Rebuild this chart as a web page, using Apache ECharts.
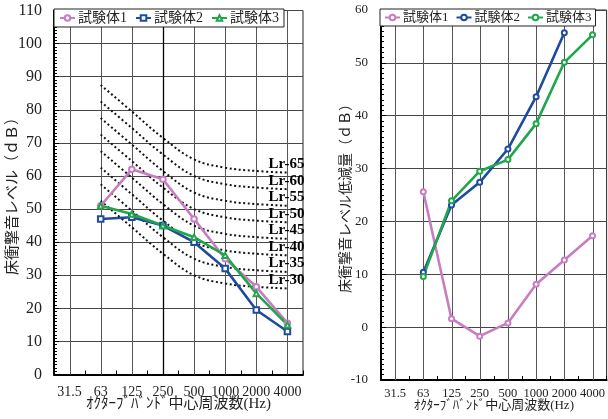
<!DOCTYPE html>
<html>
<head>
<meta charset="utf-8">
<script src="https://cdn.jsdelivr.net/npm/echarts@6/dist/echarts.min.js"></script>
<style>
  html, body { margin: 0; padding: 0; background: #fff; }
  #c { width: 608px; height: 419px; }
</style>
</head>
<body>
<div id="c"></div>
<script>
// Octave band centre frequencies (Hz)
const bands = ['31.5', '63', '125', '250', '500', '1000', '2000', '4000'];
const names = ['試験体1', '試験体2', '試験体3'];

// Floor impact sound level (dB) per specimen
const level1 = [null, 51, 62, 59, 47, 35, 26.5, 15.5];
const level2 = [null, 47, 47.5, 45, 40, 32, 19.5, 13];
const level3 = [null, 51, 48.5, 45, 41.5, 36, 24.5, 15];

// Reduction of floor impact sound level (dB) per specimen
const reduce1 = [null, 25.6, 1.6, -1.7, 0.8, 8.1, 12.7, 17.3];
const reduce2 = [null, 10.4, 23.1, 27.4, 33.7, 43.6, 55.7, null];
const reduce3 = [null, 9.6, 23.9, 29.5, 31.7, 38.5, 50.1, 55.3];

// Lr rating curves
const lrNames = ['Lr-65', 'Lr-60', 'Lr-55', 'Lr-50', 'Lr-45', 'Lr-40', 'Lr-35', 'Lr-30'];
const lr65 = [null, 87.5, 79.5, 71.5, 65, 62.5, 61.5, 61];
const lr60 = [null, 82.5, 74.5, 66.5, 60, 57.5, 56.5, 56];
const lr55 = [null, 77.5, 69.5, 61.5, 55, 52.5, 51.5, 51];
const lr50 = [null, 72.5, 64.5, 56.5, 50, 47.5, 46.5, 46];
const lr45 = [null, 67.5, 59.5, 51.5, 45, 42.5, 41.5, 41];
const lr40 = [null, 62.5, 54.5, 46.5, 40, 37.5, 36.5, 36];
const lr35 = [null, 57.5, 49.5, 41.5, 35, 32.5, 31.5, 31];
const lr30 = [null, 52.5, 44.5, 36.5, 30, 27.5, 26.5, 26];
const lrCurves = [lr65, lr60, lr55, lr50, lr45, lr40, lr35, lr30];

const colors = ['#c77dbf', '#1f4b9e', '#20a64b'];
const GRID_LINE = '#5a5456';
const SERIF = '"Liberation Serif", "Times New Roman", serif';
const JP = '"Liberation Serif", "Noto Sans CJK JP", serif';

function xAxisFor(gridIndex, fontSize, margin, nameSize, nameGap) {
  return {
    type: 'category',
    gridIndex: gridIndex,
    data: bands,
    boundaryGap: true,
    axisLine: { show: true, onZero: false, lineStyle: { color: '#000', width: 2 } },
    axisTick: { show: true, inside: true, length: 4, interval: 0, lineStyle: { color: '#000', width: 1 } },
    axisLabel: { interval: 0, fontFamily: SERIF, fontSize: fontSize, color: '#222', margin: margin },
    splitLine: { show: false },
    name: 'ｵｸﾀｰﾌﾞﾊﾞﾝﾄﾞ中心周波数(Hz)',
    nameLocation: 'middle',
    nameGap: nameGap,
    nameMoveOverlap: false,
    nameTextStyle: { fontFamily: JP, fontSize: nameSize, color: '#222' }
  };
}

function yAxisFor(gridIndex, min, max, fontSize, margin, name, nameSize, nameGap) {
  return {
    type: 'value',
    gridIndex: gridIndex,
    min: min, max: max, interval: 10,
    axisLine: { show: true, onZero: false, lineStyle: { color: '#000', width: 2 } },
    axisTick: { show: true, inside: true, length: 5, lineStyle: { color: '#000' } },
    minorTick: { show: true, splitNumber: 10, length: 3, lineStyle: { color: '#000', width: 1 } },
    axisLabel: { fontFamily: SERIF, fontSize: fontSize, color: '#222', margin: margin },
    splitLine: { show: true, lineStyle: { color: '#4a4446', width: 1 } },
    name: name,
    nameLocation: 'middle',
    nameRotate: 90,
    nameGap: nameGap,
    nameMoveOverlap: false,
    nameTextStyle: { fontFamily: JP, fontSize: nameSize, color: '#222' }
  };
}

// Vertical rules through each band centre, drawn as a custom series beneath the data
function bandRuleSeries(axisIndex, darkBand) {
  return {
    name: 'bandRules' + axisIndex,
    type: 'custom',
    xAxisIndex: axisIndex, yAxisIndex: axisIndex,
    data: bands.map(function (b) { return [b]; }),
    encode: { x: 0 },
    silent: true,
    z: 1,
    clip: false,
    renderItem: function (params, api) {
      const cs = params.coordSys;
      const x = Math.round(api.coord([api.value(0), 0])[0]) + 0.5;
      const dark = bands[params.dataIndex] === darkBand;
      return {
        type: 'line',
        silent: true,
        shape: { x1: x, y1: cs.y, x2: x, y2: cs.y + cs.height },
        style: { stroke: dark ? '#000' : GRID_LINE, lineWidth: dark ? 1.3 : 1, fill: null }
      };
    }
  };
}

const series = [bandRuleSeries(0, '250'), bandRuleSeries(1, null)];

// Lr curves on the left chart
lrCurves.forEach(function (vals, i) {
  series.push({
    name: lrNames[i],
    type: 'line',
    xAxisIndex: 0, yAxisIndex: 0,
    data: vals,
    smooth: 0.4,
    symbol: 'circle',
    symbolSize: 0.1,
    showSymbol: true,
    z: 2,
    silent: true,
    itemStyle: { color: 'rgba(0,0,0,0)' },
    lineStyle: { color: '#111', width: 2, type: [2, 2.6] },
    label: {
      show: true,
      position: 'top',
      distance: 1,
      offset: [-1, 0],
      fontFamily: SERIF,
      fontWeight: 'bold',
      fontSize: 15,
      color: '#000',
      formatter: function (p) { return p.dataIndex === bands.length - 1 ? p.seriesName : ''; }
    }
  });
});

// Measured levels
const levelData = [level1, level2, level3];
const levelSymbols = ['emptyCircle', 'emptyRect', 'emptyTriangle'];
levelData.forEach(function (vals, i) {
  series.push({
    name: names[i],
    type: 'line',
    xAxisIndex: 0, yAxisIndex: 0,
    data: vals,
    symbol: levelSymbols[i],
    symbolSize: 5.5,
    z: 3,
    lineStyle: { color: colors[i], width: 2.6 },
    itemStyle: { color: colors[i], borderWidth: 1.2 }
  });
});

// Reductions (right chart); trailing space keeps the legend entries separate
const reduceData = [reduce1, reduce2, reduce3];
reduceData.forEach(function (vals, i) {
  series.push({
    name: names[i] + ' ',
    type: 'line',
    xAxisIndex: 1, yAxisIndex: 1,
    data: vals,
    symbol: 'emptyCircle',
    symbolSize: 5,
    z: 3,
    lineStyle: { color: colors[i], width: 2.6 },
    itemStyle: { color: colors[i], borderWidth: 1.2 }
  });
});

const legendBase = {
  orient: 'horizontal',
  backgroundColor: '#fff',
  borderColor: '#222',
  borderWidth: 1,
  itemWidth: 15,
  itemHeight: 7,
  selectedMode: false,
  formatter: function (n) { return n.trim(); }
};

const option = {
  animation: false,
  backgroundColor: '#fff',
  grid: [
    { left: 54, right: 305, top: 10.5, bottom: 44.5, show: true, backgroundColor: 'transparent', borderColor: '#222', borderWidth: 1 },
    { left: 381, right: 1, top: 10, bottom: 39, show: true, backgroundColor: 'transparent', borderColor: '#222', borderWidth: 1 }
  ],
  xAxis: [
    xAxisFor(0, 14, 11, 15, 22),
    xAxisFor(1, 12.5, 7, 13, 19)
  ],
  yAxis: [
    yAxisFor(0, 0, 110, 16, 12, '床衝撃音レベル（ｄＢ）', 15, 33),
    yAxisFor(1, -10, 60, 13, 13, '床衝撃音レベル低減量（ｄＢ）', 14, 28)
  ],
  legend: [
    Object.assign({}, legendBase, {
      left: 54, top: 9,
      padding: [2, 5],
      itemGap: 8,
      data: names,
      textStyle: { fontFamily: JP, fontSize: 14, color: '#222', padding: [0, 0, 0, -2] }
    }),
    Object.assign({}, legendBase, {
      left: 380, top: 9,
      padding: [2, 4],
      itemGap: 7,
      data: names.map(function (n) { return n + ' '; }),
      textStyle: { fontFamily: JP, fontSize: 13, color: '#222', padding: [0, 0, 0, -2] }
    })
  ],
  series: series
};

const chart = echarts.init(document.getElementById('c'), null, { renderer: 'canvas' });
chart.setOption(option);
</script>
</body>
</html>
